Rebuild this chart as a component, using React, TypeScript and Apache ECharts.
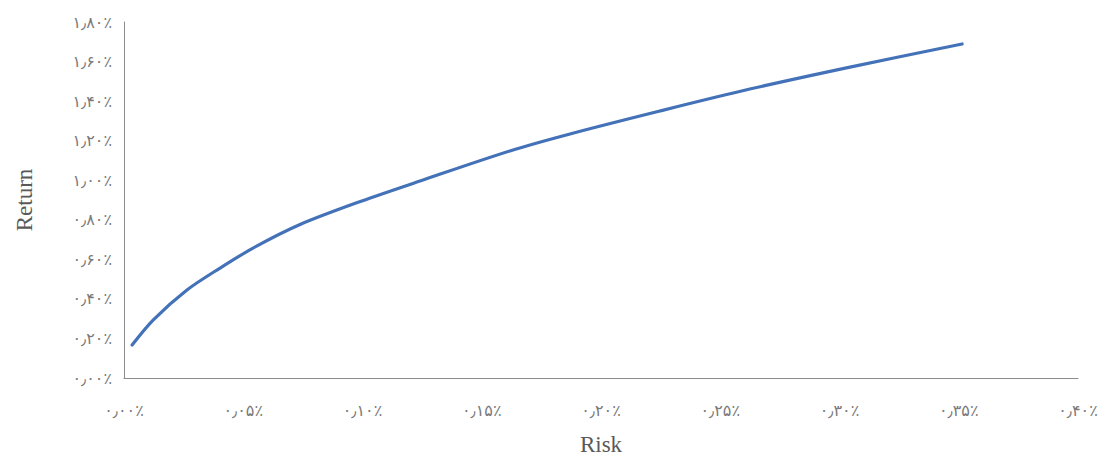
import React, { useEffect, useRef } from "react";
import * as echarts from "echarts";

// Risk (%) and Return (%)
const risk = [0.0034, 0.0122, 0.0264, 0.0403, 0.0541, 0.0738, 0.0997, 0.1241, 0.1618, 0.187, 0.2247, 0.2624, 0.3044, 0.3514];
const ret = [0.167, 0.293, 0.445, 0.556, 0.657, 0.776, 0.895, 0.996, 1.148, 1.234, 1.35, 1.461, 1.572, 1.689];

const xTicks = { min: 0, max: 0.4, interval: 0.05 };
const yTicks = { min: 0, max: 1.8, interval: 0.2 };

const persianDigits = ["۰", "۱", "۲", "۳", "۴", "۵", "۶", "۷", "۸", "۹"];
const toPersian = (v: number) =>
  v
    .toFixed(2)
    .replace(/\d/g, (d) => persianDigits[Number(d)])
    .replace(".", "٫") + "٪";

export default function App() {
  const ref = useRef<HTMLDivElement>(null);
  useEffect(() => {
    if (!ref.current) return;
    const chart = echarts.init(ref.current, undefined, { renderer: "svg" });
    const labelFont = "'Liberation Serif', 'DejaVu Serif', 'DejaVu Sans', serif";
    chart.setOption({
      animation: false,
      backgroundColor: "#ffffff",
      grid: { left: 116, right: 22, top: 14, bottom: 79, outerBoundsMode: "none", containLabel: false },
      xAxis: {
        type: "value",
        min: xTicks.min,
        max: xTicks.max,
        interval: xTicks.interval,
        name: "Risk",
        nameLocation: "middle",
        nameGap: 55,
        nameTextStyle: { color: "#595959", fontSize: 23, fontFamily: labelFont },
        axisLine: { show: true, lineStyle: { color: "#8c8c8c", width: 1 } },
        axisTick: { show: false },
        splitLine: { show: false },
        axisLabel: {
          color: "#7a7a7a",
          fontSize: 16,
          margin: 24,
          fontFamily: labelFont,
          formatter: (v: number) => toPersian(v),
        },
      },
      yAxis: {
        type: "value",
        min: yTicks.min,
        max: yTicks.max,
        interval: yTicks.interval,
        name: "Return",
        nameLocation: "middle",
        nameGap: 88,
        nameRotate: 90,
        nameTextStyle: { color: "#595959", fontSize: 23, fontFamily: labelFont },
        axisLine: { show: true, lineStyle: { color: "#8c8c8c", width: 1 } },
        axisTick: { show: false },
        splitLine: { show: false },
        axisLabel: {
          color: "#7a7a7a",
          fontSize: 16,
          margin: 12,
          fontFamily: labelFont,
          formatter: (v: number) => toPersian(v),
        },
      },
      series: [
        {
          type: "line",
          data: risk.map((r, i) => [r, ret[i]]),
          smooth: 0.3,
          showSymbol: false,
          lineStyle: { color: "#4472b8", width: 3.2, cap: "round" },
        },
      ],
    });
    return () => chart.dispose();
  }, []);
  return <div ref={ref} style={{ width: 1092, height: 449 }} />;
}
